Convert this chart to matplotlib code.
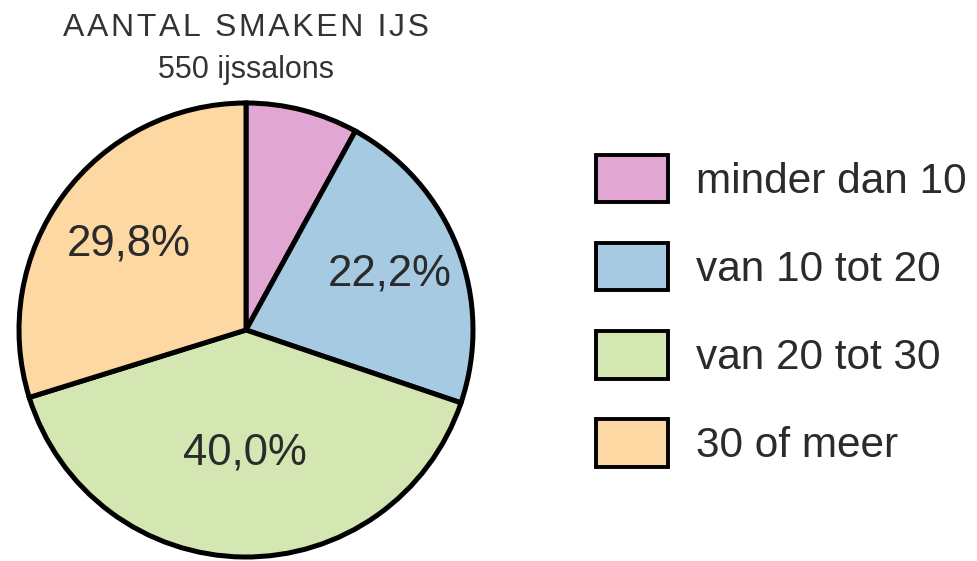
import matplotlib
matplotlib.use("Agg")
import matplotlib.pyplot as plt

plt.rcParams['font.family'] = ['Liberation Sans', 'DejaVu Sans']

categories = ["minder dan 10", "van 10 tot 20", "van 20 tot 30", "30 of meer"]
values = [8.0, 22.2, 40.0, 29.8]
colors = ["#E2A6D3", "#A5CAE2", "#D4E6B1", "#FDD8A2"]
title = "AANTAL SMAKEN IJS"
subtitle = "550 ijssalons"
label_dist = [0.6, 0.68, 0.54, 0.64]

W, H = 978, 561
fig = plt.figure(figsize=(W / 100, H / 100), dpi=100)

cx, cy, r = 246, 330, 227
ax = fig.add_axes([(cx - r) / W, (H - cy - r) / H, 2 * r / W, 2 * r / H])

def fmt(p):
    return "" if p < 10 else f"{p:.1f}".replace(".", ",") + "%"

wedges, texts, autotexts = ax.pie(
    values, colors=colors, startangle=90, counterclock=False,
    autopct=fmt, pctdistance=1.0,
    wedgeprops=dict(edgecolor="black", linewidth=3.6, clip_on=False),
    textprops=dict(fontsize=31.5, color="#2b2b2b"),
)
for t, d in zip(autotexts, label_dist):
    x, y = t.get_position()
    t.set_position((x * d, y * d))
ax.set_xlim(-1, 1)
ax.set_ylim(-1, 1)
ax.set_aspect("equal")
ax.axis("off")

fig.text(cx / W, 1 - 28 / H, "\u200a".join(title), ha="center", va="center",
         fontsize=23, color="#333333")
fig.text(cx / W, 1 - 70 / H, subtitle, ha="center", va="center",
         fontsize=22, color="#333333")

leg = fig.legend(wedges, categories, loc="upper left",
                 bbox_to_anchor=(566 / W, 1 - 125 / H),
                 frameon=False, fontsize=30.5,
                 handlelength=1.7, handleheight=1.35,
                 handletextpad=0.68, labelspacing=0.96, borderpad=0.2)
for txt in leg.get_texts():
    txt.set_color("#2b2b2b")
for h in leg.legend_handles:
    h.set_linewidth(2.8)

fig.savefig("out.png", dpi=100)
